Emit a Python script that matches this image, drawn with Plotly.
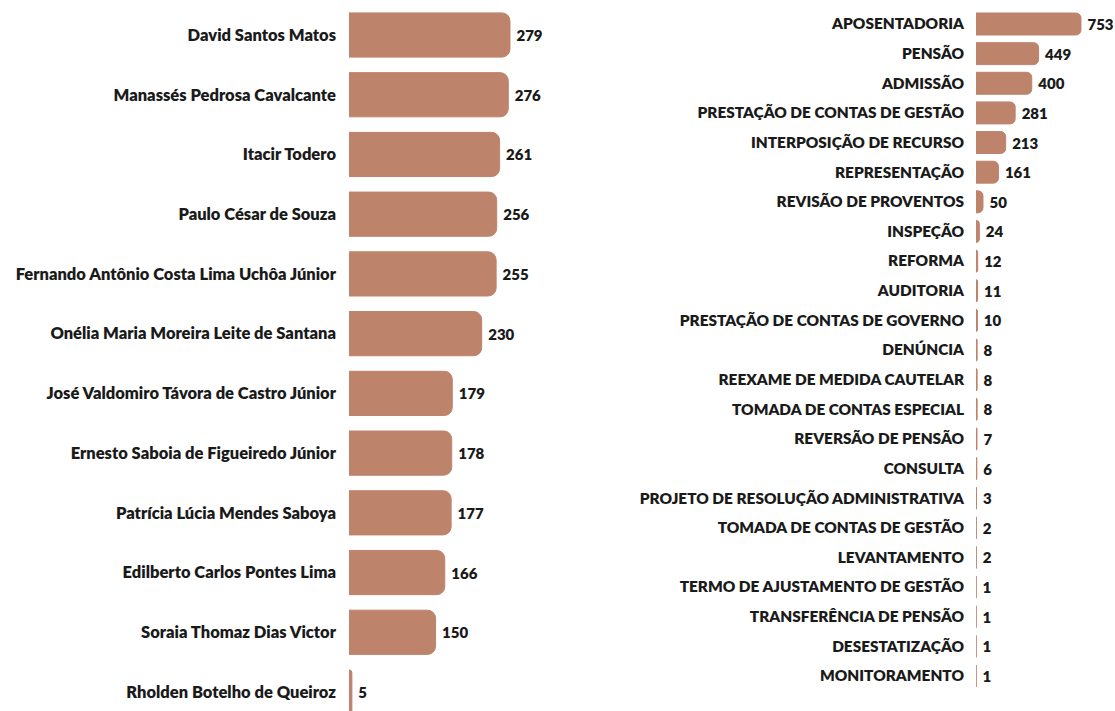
import plotly.graph_objects as go

relatores = [
    "David Santos Matos",
    "Manassés Pedrosa Cavalcante",
    "Itacir Todero",
    "Paulo César de Souza",
    "Fernando Antônio Costa Lima Uchôa Júnior",
    "Onélia Maria Moreira Leite de Santana",
    "José Valdomiro Távora de Castro Júnior",
    "Ernesto Saboia de Figueiredo Júnior",
    "Patrícia Lúcia Mendes Saboya",
    "Edilberto Carlos Pontes Lima",
    "Soraia Thomaz Dias Victor",
    "Rholden Botelho de Queiroz",
]
relatores_vals = [279, 276, 261, 256, 255, 230, 179, 178, 177, 166, 150, 5]

tipos = [
    "APOSENTADORIA", "PENSÃO", "ADMISSÃO", "PRESTAÇÃO DE CONTAS DE GESTÃO",
    "INTERPOSIÇÃO DE RECURSO", "REPRESENTAÇÃO", "REVISÃO DE PROVENTOS",
    "INSPEÇÃO", "REFORMA", "AUDITORIA", "PRESTAÇÃO DE CONTAS DE GOVERNO",
    "DENÚNCIA", "REEXAME DE MEDIDA CAUTELAR", "TOMADA DE CONTAS ESPECIAL",
    "REVERSÃO DE PENSÃO", "CONSULTA", "PROJETO DE RESOLUÇÃO ADMINISTRATIVA",
    "TOMADA DE CONTAS DE GESTÃO", "LEVANTAMENTO", "TERMO DE AJUSTAMENTO DE GESTÃO",
    "TRANSFERÊNCIA DE PENSÃO", "DESESTATIZAÇÃO", "MONITORAMENTO",
]
tipos_vals = [753, 449, 400, 281, 213, 161, 50, 24, 12, 11, 10, 8, 8, 8, 7, 6, 3, 2, 2, 1, 1, 1, 1]

BAR = "#BE836B"
TXT = "#1a1a1a"
FONT = "Lato"
WT = 800

fig = go.Figure()
fig.add_trace(go.Bar(
    x=relatores_vals, y=relatores, orientation="h",
    marker=dict(color=BAR, line=dict(color=BAR, width=1), cornerradius=8),
    texttemplate="\u00a0%{x}", textposition="outside", cliponaxis=False,
    textfont=dict(family=FONT, size=15, color=TXT, weight=WT),
    xaxis="x", yaxis="y", width=0.74, hoverinfo="skip",
))
fig.add_trace(go.Bar(
    x=tipos_vals, y=tipos, orientation="h",
    marker=dict(color=BAR, line=dict(color=BAR, width=1), cornerradius=5),
    texttemplate="\u00a0%{x}", textposition="outside", cliponaxis=False,
    textfont=dict(family=FONT, size=15, color=TXT, weight=WT),
    xaxis="x2", yaxis="y2", width=0.74, hoverinfo="skip",
))

W, H = 1115, 711
fig.update_layout(
    width=W, height=H,
    margin=dict(l=0, r=0, t=0, b=0, autoexpand=False),
    paper_bgcolor="white", plot_bgcolor="white",
    showlegend=False,
    font=dict(family=FONT, color=TXT),
    xaxis=dict(domain=[349 / W, 560 / W], range=[0, 211 / 0.577], visible=False, fixedrange=True),
    yaxis=dict(anchor="x", domain=[0, 1], range=[11.318, -0.586], showgrid=False, zeroline=False,
               showline=False, ticks="", ticklabelstandoff=12, automargin=False, fixedrange=True,
               tickfont=dict(family=FONT, size=16.5, color=TXT, weight=WT)),
    xaxis2=dict(domain=[976 / W, 1.0], range=[0, 139 / 0.1394], visible=False, fixedrange=True),
    yaxis2=dict(anchor="x2", domain=[0, 1], range=[23.181, -0.810], showgrid=False, zeroline=False,
                showline=False, ticks="", ticklabelstandoff=11, automargin=False, fixedrange=True,
                tickfont=dict(family=FONT, size=15.4, color=TXT, weight=WT)),
)

fig.write_html("out.html", config={"displayModeBar": False},
               post_script="document.body.style.margin='0';")
